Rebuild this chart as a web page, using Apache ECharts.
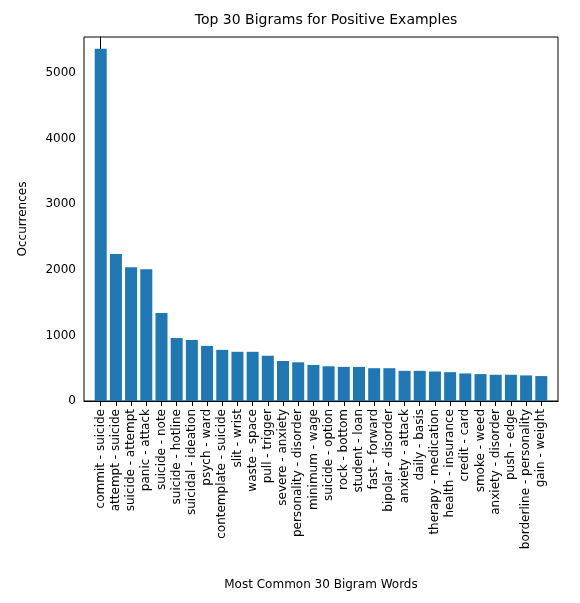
<!DOCTYPE html>
<html><head><meta charset="utf-8">
<script src="https://cdn.jsdelivr.net/npm/echarts@6/dist/echarts.min.js"></script>
<style>html,body{margin:0;padding:0;background:#fff}#c{width:580px;height:603px}</style>
</head><body><div id="c"></div>
<script>
const categories = ["commit - suicide","attempt - suicide","suicide - attempt","panic - attack","suicide - note","suicide - hotline","suicidal - ideation","psych - ward","contemplate - suicide","slit - wrist","waste - space","pull - trigger","severe - anxiety","personality - disorder","minimum - wage","suicide - option","rock - bottom","student - loan","fast - forward","bipolar - disorder","anxiety - attack","daily - basis","therapy - medication","health - insurance","credit - card","smoke - weed","anxiety - disorder","push - edge","borderline - personality","gain - weight"];
const values = [5370,2240,2040,2010,1340,960,930,840,780,750,750,690,610,590,550,530,520,520,500,500,460,460,450,440,420,410,400,400,390,380];
const yTicks = [0,1000,2000,3000,4000,5000];
const chart = echarts.init(document.getElementById('c'));
const font = 'DejaVu Sans';
const idx = categories.map((_, i) => i);
chart.setOption({
  animation:false,
  textStyle:{fontFamily:font},
  title:{text:'Top 30 Bigrams for Positive Examples',left:321,top:8,textAlign:'center',textStyle:{fontFamily:font,fontSize:14,fontWeight:'normal',color:'#000'}},
  grid:{left:84,right:22,top:37,bottom:202,show:true,borderColor:'#000',borderWidth:1},
  xAxis:{type:'value',min:-1.1,max:30.1,
    name:'Most Common 30 Bigram Words',nameLocation:'middle',nameGap:178,
    nameTextStyle:{fontFamily:font,fontSize:12,color:'#000'},
    splitLine:{show:false},
    axisLine:{lineStyle:{color:'#000'}},
    axisTick:{show:true,customValues:idx,lineStyle:{color:'#000'}},
    axisLabel:{rotate:90,customValues:idx,fontFamily:font,fontSize:12,color:'#000',
      formatter:v=>categories[Math.round(v)]}},
  yAxis:{type:'value',min:0,max:5550,
    name:'Occurrences',nameLocation:'middle',nameGap:55,
    nameTextStyle:{fontFamily:font,fontSize:12,color:'#000'},
    axisLine:{show:true,lineStyle:{color:'#000'}},
    splitLine:{show:false},
    axisLabel:{fontFamily:font,fontSize:12,color:'#000',customValues:yTicks,formatter:v=>String(v)},
    axisTick:{show:true,customValues:yTicks,lineStyle:{color:'#000'}}},
  series:[{type:'bar',data:values.map((v,i)=>[i,v]),barWidth:12,itemStyle:{color:'#1f77b4'}}]
});
</script></body></html>
